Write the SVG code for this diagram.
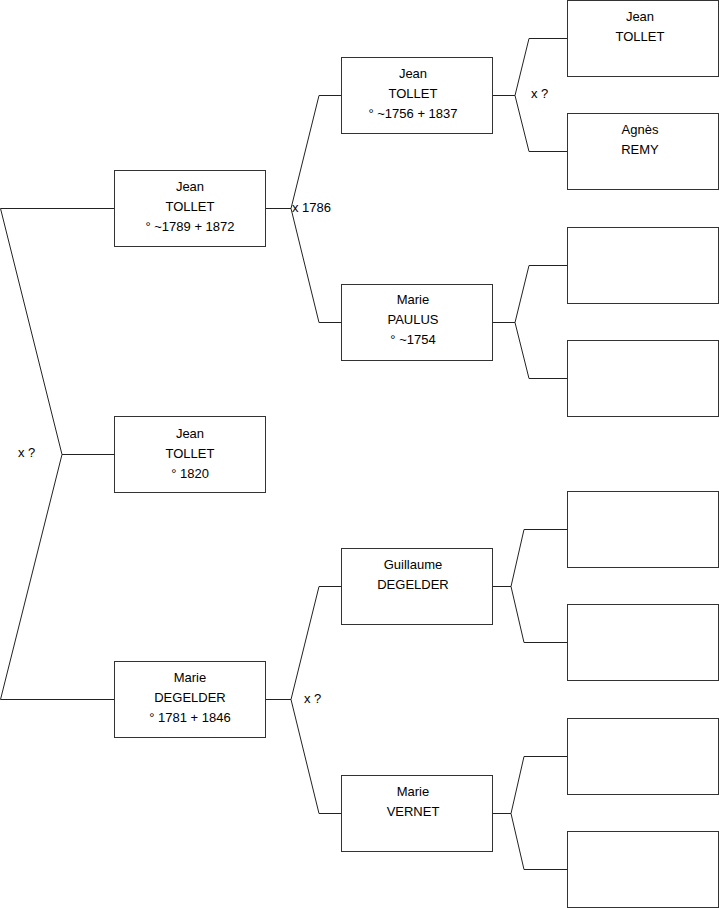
<svg xmlns="http://www.w3.org/2000/svg" width="719" height="908" viewBox="0 0 719 908">
<style>
.box{fill:#fff;stroke:#333;stroke-width:1}
.ln{fill:none;stroke:#222;stroke-width:1}
text{font-family:"Liberation Sans",Arial,sans-serif;font-size:13px;fill:#000;dominant-baseline:central}
.c{text-anchor:middle}
</style>
<rect width="719" height="908" fill="#fff"/>
<g id="connectors">
<polyline class="ln" points="114,208.5 0.5,208.5 62,454.5 0.5,699.5 114,699.5"/>
<line class="ln" x1="62" y1="454.5" x2="114" y2="454.5"/>
<polyline class="ln" points="341,95.5 319,95.5 291,208.5 319,322.5 341,322.5"/>
<line class="ln" x1="265" y1="208.5" x2="291" y2="208.5"/>
<polyline class="ln" points="341,586.5 319,586.5 291,699.5 319,813.5 341,813.5"/>
<line class="ln" x1="265" y1="699.5" x2="291" y2="699.5"/>
<polyline class="ln" points="567,38.5 529,38.5 515,95.5 529,151.5 567,151.5"/>
<line class="ln" x1="492" y1="95.5" x2="515" y2="95.5"/>
<polyline class="ln" points="567,265.5 529,265.5 515,322.5 529,378.5 567,378.5"/>
<line class="ln" x1="492" y1="322.5" x2="515" y2="322.5"/>
<polyline class="ln" points="567,529.5 524,529.5 511,586.5 524,642.5 567,642.5"/>
<line class="ln" x1="492" y1="586.5" x2="511" y2="586.5"/>
<polyline class="ln" points="567,756.5 524,756.5 511,813.5 524,869.5 567,869.5"/>
<line class="ln" x1="492" y1="813.5" x2="511" y2="813.5"/>
<text x="18" y="452">x ?</text>
<text x="292" y="207">x 1786</text>
<text x="304" y="698">x ?</text>
<text x="531" y="93">x ?</text>
</g>
<g id="n1"><rect class="box" x="114.5" y="170.5" width="151" height="76"/><text class="c" x="190" y="186">Jean</text><text class="c" x="190" y="206">TOLLET</text><text class="c" x="190" y="226">° ~1789 + 1872</text></g>
<g id="n0"><rect class="box" x="114.5" y="416.5" width="151" height="76"/><text class="c" x="190" y="433">Jean</text><text class="c" x="190" y="453">TOLLET</text><text class="c" x="190" y="473">° 1820</text></g>
<g id="n2"><rect class="box" x="114.5" y="661.5" width="151" height="76"/><text class="c" x="190" y="677">Marie</text><text class="c" x="190" y="697">DEGELDER</text><text class="c" x="190" y="717">° 1781 + 1846</text></g>
<g id="n3"><rect class="box" x="341.5" y="57.5" width="151" height="76"/><text class="c" x="413" y="73">Jean</text><text class="c" x="413" y="93">TOLLET</text><text class="c" x="413" y="113">° ~1756 + 1837</text></g>
<g id="n4"><rect class="box" x="341.5" y="284.5" width="151" height="76"/><text class="c" x="413" y="299">Marie</text><text class="c" x="413" y="319">PAULUS</text><text class="c" x="413" y="339">° ~1754</text></g>
<g id="n5"><rect class="box" x="341.5" y="548.5" width="151" height="76"/><text class="c" x="413" y="564">Guillaume</text><text class="c" x="413" y="584">DEGELDER</text></g>
<g id="n6"><rect class="box" x="341.5" y="775.5" width="151" height="76"/><text class="c" x="413" y="791">Marie</text><text class="c" x="413" y="811">VERNET</text></g>
<g id="n7"><rect class="box" x="567.5" y="0.5" width="151" height="76"/><text class="c" x="640" y="16">Jean</text><text class="c" x="640" y="36">TOLLET</text></g>
<g id="n8"><rect class="box" x="567.5" y="113.5" width="151" height="76"/><text class="c" x="640" y="129">Agnès</text><text class="c" x="640" y="149">REMY</text></g>
<g id="n9"><rect class="box" x="567.5" y="227.5" width="151" height="76"/></g>
<g id="n10"><rect class="box" x="567.5" y="340.5" width="151" height="76"/></g>
<g id="n11"><rect class="box" x="567.5" y="491.5" width="151" height="76"/></g>
<g id="n12"><rect class="box" x="567.5" y="604.5" width="151" height="76"/></g>
<g id="n13"><rect class="box" x="567.5" y="718.5" width="151" height="76"/></g>
<g id="n14"><rect class="box" x="567.5" y="831.5" width="151" height="76"/></g>
</svg>
